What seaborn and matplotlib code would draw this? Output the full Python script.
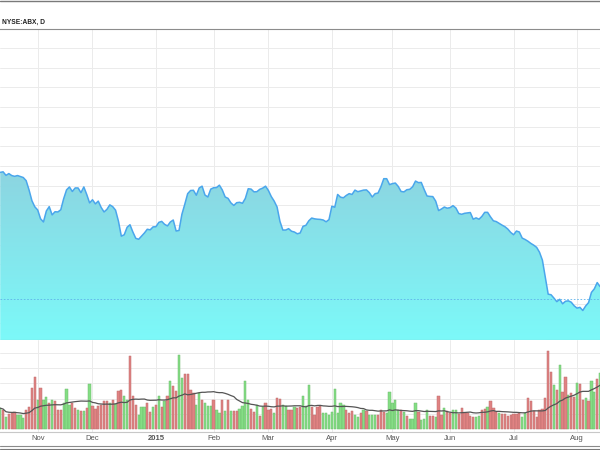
import numpy as np
import pandas as pd
import matplotlib.pyplot as plt
import seaborn as sns
from matplotlib.colors import LinearSegmentedColormap
from matplotlib.lines import Line2D

sns.set_style("white")
plt.rcParams["font.family"] = ["Liberation Sans", "DejaVu Sans"]

# NYSE trading days shown in the chart
holidays = ["2014-11-27", "2014-12-25", "2015-01-01", "2015-01-19",
            "2015-02-16", "2015-04-03", "2015-05-25", "2015-07-03"]
dates = pd.bdate_range("2014-10-15", "2015-08-13")
dates = dates[~dates.isin(pd.to_datetime(holidays))]

close = [
    13.67, 13.70, 13.52, 13.61, 13.51, 13.47, 13.51, 13.46, 13.41, 13.25,
    12.78, 12.23, 11.92, 11.76, 11.31, 11.15, 11.71, 11.93, 11.51, 11.67,
    11.66, 11.77, 12.33, 12.78, 12.93, 12.70, 12.88, 12.88, 12.64, 12.93,
    12.55, 12.12, 12.28, 12.07, 12.21, 11.89, 11.66, 11.79, 12.02, 11.93,
    11.75, 11.19, 10.43, 10.50, 10.88, 11.01, 10.64, 10.32, 10.27, 10.43,
    10.59, 10.78, 10.75, 10.90, 10.91, 11.13, 11.18, 11.03, 10.95, 11.15,
    11.25, 10.69, 10.72, 11.54, 12.05, 12.59, 12.75, 12.76, 12.51, 12.88,
    12.97, 12.52, 12.42, 12.82, 12.89, 12.90, 13.02, 12.78, 12.42, 12.35,
    12.12, 11.99, 12.13, 12.15, 12.10, 12.35, 12.84, 12.82, 12.68, 12.69,
    12.81, 12.87, 12.97, 12.75, 12.44, 12.21, 11.91, 11.18, 10.74, 10.74,
    10.81, 10.68, 10.64, 10.55, 10.59, 10.93, 10.98, 11.21, 11.35, 11.31,
    11.29, 11.28, 11.25, 11.16, 11.27, 11.95, 11.90, 12.55, 12.41, 12.38,
    12.50, 12.59, 12.55, 12.77, 12.69, 12.73, 12.77, 12.78, 12.64, 12.42,
    12.59, 12.62, 12.94, 13.35, 13.35, 13.05, 13.10, 13.13, 12.96, 12.70,
    12.68, 12.79, 12.81, 12.94, 13.23, 13.15, 13.16, 12.80, 12.47, 12.45,
    12.44, 12.21, 11.73, 11.81, 11.91, 11.85, 11.88, 11.98, 11.86, 11.58,
    11.54, 11.59, 11.61, 11.63, 11.29, 11.36, 11.29, 11.43, 11.64, 11.64,
    11.41, 11.21, 11.17, 11.08, 10.99, 10.91, 10.79, 10.62, 10.50, 10.69,
    10.64, 10.33, 10.26, 10.17, 10.06, 9.97, 9.86, 9.61, 9.21, 8.36,
    7.48, 7.45, 7.28, 7.10, 7.22, 6.99, 7.12, 7.14, 7.07, 6.89,
    6.77, 6.81, 6.65, 6.88, 7.05, 7.57, 7.75, 8.07, 7.86,
]

# volume in millions of shares
volume = [
    13.7, 12.6, 7.8, 10.0, 10.5, 10.9, 9.4, 9.4, 7.2, 12.6,
    14.2, 26.8, 33.8, 19.2, 26.8, 19.2, 20.9, 17.0, 19.2, 18.1,
    12.2, 12.2, 17.4, 26.2, 15.9, 17.4, 13.7, 12.6, 11.6, 11.6,
    13.7, 29.6, 14.8, 13.1, 15.3, 15.9, 18.1, 18.7, 17.0, 19.2,
    16.6, 25.1, 25.7, 21.8, 19.2, 48.0, 21.4, 15.9, 9.4, 14.2,
    14.2, 17.0, 10.9, 14.2, 15.9, 21.8, 14.4, 18.7, 21.8, 31.8,
    27.9, 25.1, 48.6, 33.4, 36.2, 36.2, 25.7, 23.5, 15.9, 23.5,
    19.2, 17.0, 15.3, 14.8, 19.2, 12.6, 10.5, 19.2, 12.0, 19.2,
    11.6, 11.6, 11.6, 13.1, 14.8, 31.2, 19.2, 13.1, 10.9, 15.9,
    8.7, 14.4, 17.4, 12.6, 13.1, 10.5, 20.3, 19.6, 15.9, 14.8,
    12.6, 12.6, 14.4, 13.7, 14.4, 21.4, 14.8, 29.0, 14.4, 9.4,
    14.4, 15.3, 10.5, 10.5, 9.4, 10.9, 26.2, 10.5, 17.0, 15.9,
    12.6, 10.5, 11.6, 9.4, 7.8, 10.5, 12.6, 11.6, 9.4, 9.4,
    9.4, 9.4, 12.6, 10.9, 10.5, 24.0, 17.4, 19.2, 12.6, 12.6,
    10.9, 8.3, 6.5, 6.5, 17.0, 10.9, 6.1, 6.5, 12.6, 8.3,
    8.3, 7.8, 21.8, 9.4, 13.7, 11.6, 10.5, 12.6, 12.6, 10.0,
    13.7, 10.5, 10.5, 8.7, 7.8, 7.8, 8.7, 12.6, 13.1, 14.4,
    18.7, 13.7, 10.9, 10.5, 10.0, 10.0, 8.7, 9.4, 9.8, 9.8,
    10.5, 7.8, 10.5, 20.3, 18.1, 11.6, 7.8, 12.6, 13.1, 20.3,
    51.4, 37.1, 29.0, 25.7, 42.1, 24.6, 34.4, 22.5, 23.5, 20.9,
    30.1, 29.6, 19.2, 20.3, 18.1, 31.2, 24.6, 32.7, 36.6,
]

# g = up day, r = down day
vol_dir = ("grgrrrgggr" "rrrgrggrgr" "rrgggrrgrg" "rgrrrrrrgr" "grrggrrrgg"
           "grrgrgrgrg" "rrggrrrrgg" "rgggrggrgr" "grrggggrrg" "rgrrrgrrgg"
           "rrgrrgggrr" "rrgggggggg" "rrrggrgrgg" "grrrgggggr" "grgggrgggr"
           "rgrrgrrggr" "rrrrrggrrg" "rrrgrrrrrr" "rggrrrrrrr" "rrgrgrrgrr"
           "grrgrggrg")

last_price = 7.24

df = pd.DataFrame({"date": dates, "close": close, "volume": volume,
                   "dir": list(vol_dir)})
df["bar"] = np.arange(len(df))
df["vol_ma"] = df["volume"].rolling(20, min_periods=1).mean()

# first trading day of each full month (the partial October is not labelled)
month_start = df.groupby([df.date.dt.year, df.date.dt.month])["bar"].min().values[1:]
month_lbl = [("%d" % d.year) if d.month == 1 else d.strftime("%b")
             for d in df.date.iloc[month_start]]

xlim = (-0.07, 207.97)
ylim = (5.15, 20.96)

fig = plt.figure(figsize=(6, 4.5), dpi=100)
ax = fig.add_axes([0, 110 / 450, 1, 311 / 450])
axv = fig.add_axes([0, 18.3 / 450, 1, 91.7 / 450])

# price area with vertical gradient
poly = ax.fill_between(df.bar, df.close, ylim[0], color="none", lw=0)
grad = LinearSegmentedColormap.from_list("area", ["#9ab6cc", "#7cf9f9"])
img = ax.imshow(np.linspace(0, 1, 256).reshape(-1, 1), cmap=grad, aspect="auto",
                extent=[xlim[0], xlim[1], ylim[0], ylim[1]], origin="upper", zorder=1)
img.set_clip_path(poly.get_paths()[0], transform=ax.transData)
sns.lineplot(data=df, x="bar", y="close", ax=ax, color="#4aa6ec", lw=1.1, zorder=3)
ax.axhline(last_price, color="#5fb2ea", lw=0.6, ls=(0, (2, 2)), zorder=4)

ax.set_xlim(*xlim)
ax.set_ylim(*ylim)
ax.set_yticks(np.arange(6, 21, 1))
ax.set_xticks(month_start)
ax.grid(True, color="#ebebeb", lw=0.7, zorder=0)
ax.set_axisbelow(True)
ax.tick_params(labelbottom=False, labelleft=False, length=0)
ax.set_xlabel("")
ax.set_ylabel("")
for s in ["left", "right"]:
    ax.spines[s].set_visible(False)
ax.spines["top"].set_color("#8c8c8c")
ax.spines["bottom"].set_color("#9a9a9a")

# volume pane
sns.barplot(data=df, x="bar", y="volume", hue="dir",
            palette={"g": "#84de84", "r": "#e08282"}, dodge=False, width=0.78,
            saturation=1, legend=False, ax=axv, lw=0.35, zorder=2)
for p in axv.patches:
    r, g, b, a = p.get_facecolor()
    p.set_edgecolor((r * 0.85, g * 0.85, b * 0.85, 1))
sns.lineplot(data=df, x="bar", y="vol_ma", ax=axv, color="#555555", lw=0.9, zorder=3)
axv.set_xlim(*xlim)
axv.set_ylim(-1.7, 58.3)
axv.set_yticks(np.arange(10, 60, 10))
axv.set_xticks(month_start)
axv.set_xticklabels(month_lbl)
for t in axv.get_xticklabels():
    if t.get_text().isdigit():
        t.set_fontweight("bold")
axv.grid(True, color="#ebebeb", lw=0.7, zorder=0)
axv.set_axisbelow(True)
axv.tick_params(axis="x", length=0, labelsize=5.5, labelcolor="#555555", pad=2.2)
axv.tick_params(axis="y", length=0, labelleft=False)
axv.set_xlabel("")
axv.set_ylabel("")
for s in ["left", "right", "top"]:
    axv.spines[s].set_visible(False)
axv.spines["bottom"].set_color("#c8c8c8")

# frame lines and title
fig.add_artist(Line2D([0, 1], [1 - 1 / 450, 1 - 1 / 450], color="#7a7a7a", lw=1.0))
fig.add_artist(Line2D([0, 1], [1 - 446 / 450, 1 - 446 / 450], color="#8a8a8a", lw=0.8))
fig.add_artist(Line2D([0, 1], [1 - 449 / 450, 1 - 449 / 450], color="#7a7a7a", lw=0.8))
fig.text(2 / 600, 1 - 22 / 450, "NYSE:ABX, D", fontsize=4.8, fontweight="bold",
         color="#222222", va="center", ha="left")

fig.savefig("out.png", dpi=100)
